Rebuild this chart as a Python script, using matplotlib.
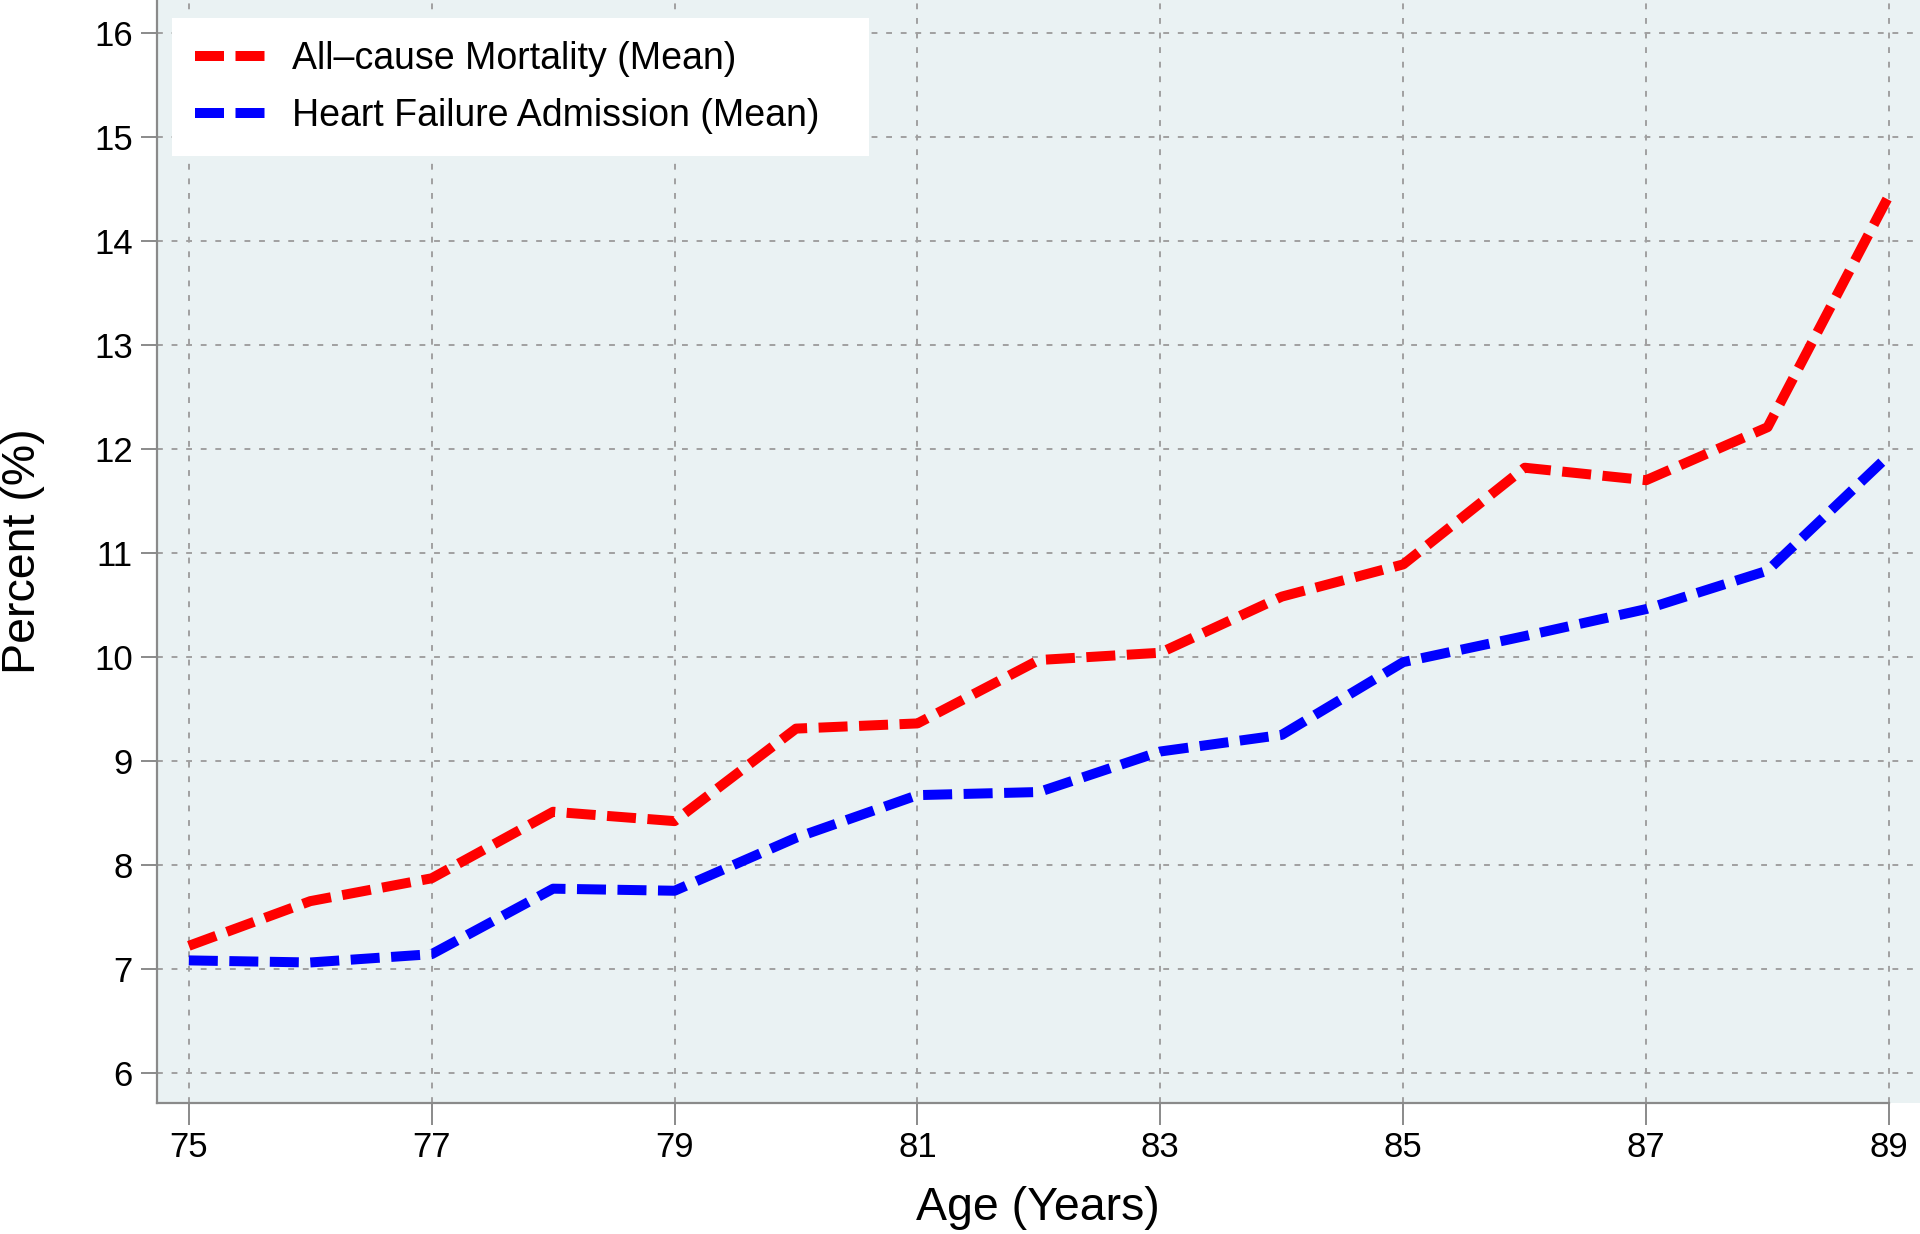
import matplotlib
matplotlib.use("Agg")
import matplotlib.pyplot as plt

plt.rcParams['font.family'] = ['Liberation Sans', 'DejaVu Sans']

ages = [75, 76, 77, 78, 79, 80, 81, 82, 83, 84, 85, 86, 87, 88, 89]
mortality = [7.22, 7.65, 7.87, 8.51, 8.42, 9.31, 9.36, 9.97, 10.04, 10.58, 10.89, 11.82, 11.70, 12.21, 14.44]
hf_admission = [7.08, 7.06, 7.14, 7.77, 7.75, 8.26, 8.67, 8.70, 9.09, 9.25, 9.95, 10.20, 10.46, 10.83, 11.94]
labels = ['All\u2013cause Mortality (Mean)', 'Heart Failure Admission (Mean)']
xticks = [75, 77, 79, 81, 83, 85, 87, 89]
yticks = [6, 7, 8, 9, 10, 11, 12, 13, 14, 15, 16]

W, H = 1920, 1234
fig = plt.figure(figsize=(W / 100, H / 100), dpi=100)
L, B_px = 157, 1103
ax = fig.add_axes([L / W, 1 - B_px / H, (W - L) / W, B_px / H])
ax.set_facecolor('#EAF2F3')

lw = 7.2
ax.plot(ages, mortality, color='#FF0000', lw=lw, dashes=(2.9, 1.15), label=labels[0], dash_capstyle='butt')
ax.plot(ages, hf_admission, color='#0000FF', lw=lw, dashes=(2.9, 1.15), label=labels[1], dash_capstyle='butt')

ax.set_xlim(74.738, 89.255)
ax.set_ylim(5.708, 16.32)
ax.set_xticks(xticks)
ax.set_yticks(yticks)
ax.grid(True, color='#A0A0A0', lw=1.4, linestyle=(0, (3, 4.5)))
ax.set_axisbelow(True)

for s in ['top', 'right']:
    ax.spines[s].set_visible(False)
for s in ['left', 'bottom']:
    ax.spines[s].set_color('#8A8A8A')
    ax.spines[s].set_linewidth(1.6)
ax.spines['bottom'].set_bounds(74.738, 89)

ax.tick_params(axis='x', length=15.5, width=1.4, color='#8A8A8A', labelsize=25, pad=5, labelcolor='black')
ax.tick_params(axis='y', length=11.5, width=1.4, color='#8A8A8A', labelsize=25, pad=6, labelcolor='black')

fig.text(23.5 / W, 1 - 551 / H, 'Percent (%)', rotation=90, ha='center', va='center', fontsize=33.5)
fig.text(1038 / W, 1 - 1208 / H, 'Age (Years)', ha='center', va='center', fontsize=33.5)

leg = ax.legend(loc='upper left',
                bbox_to_anchor=(172 / W, 1 - 156 / H, (868.5 - 172) / W, (156 - 18.3) / H),
                bbox_transform=fig.transFigure, mode='expand',
                borderaxespad=0, fontsize=27, frameon=True, fancybox=False, handlelength=1.87,
                handletextpad=0.72, borderpad=0.6, labelspacing=0.56)
leg.get_frame().set_facecolor('white')
leg.get_frame().set_edgecolor('none')
leg.get_frame().set_alpha(1)

fig.savefig('out.png', dpi=100, facecolor='white')
